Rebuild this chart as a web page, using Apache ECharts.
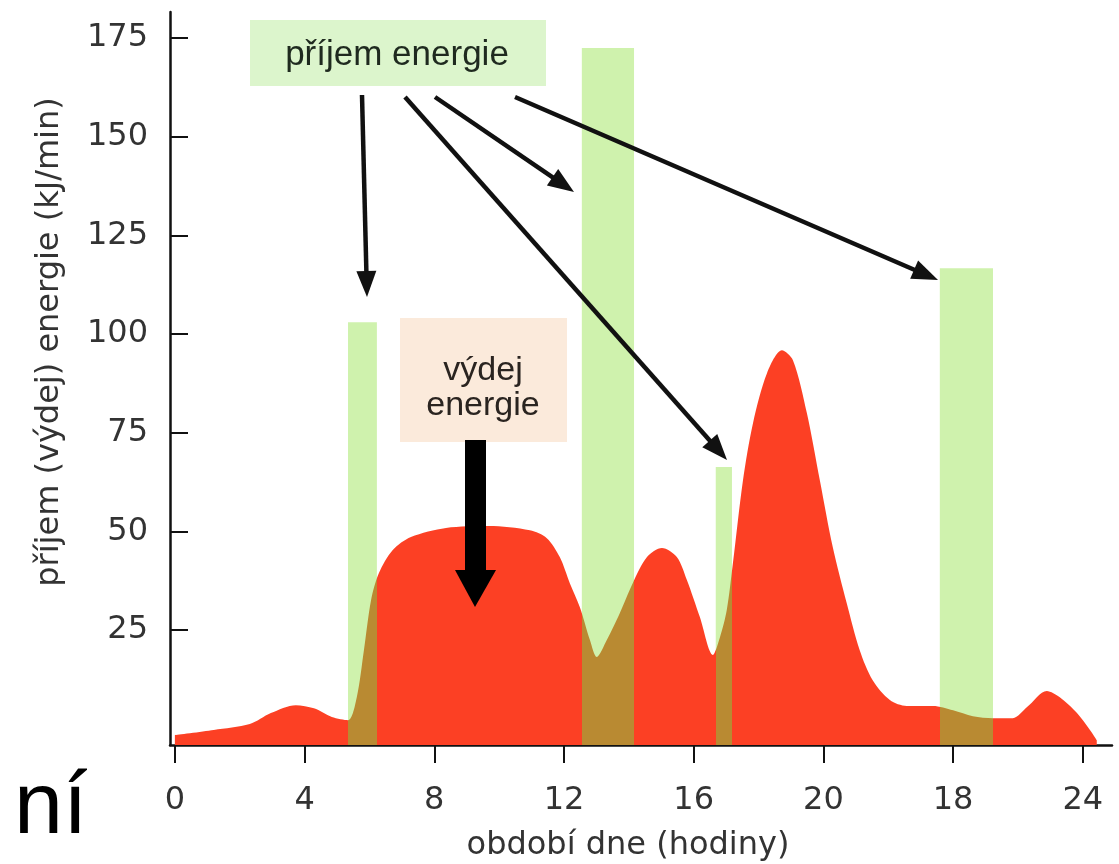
<!DOCTYPE html>
<html>
<head>
<meta charset="utf-8">
<script src="https://cdn.jsdelivr.net/npm/echarts@6/dist/echarts.min.js"></script>
<style>
  html, body { margin: 0; padding: 0; background: #fff; }
  #chart { width: 1119px; height: 864px; }
</style>
</head>
<body>
<div id="chart"></div>
<script>
// ---- data (x in hour-positions along the drawn axis, y in kJ/min) ----
var xTickLabels = ['0', '4', '8', '12', '16', '20', '18', '24'];
var xTickPositions = [0, 4, 8, 12, 16, 20, 24, 28];
var yTickValues = [25, 50, 75, 100, 125, 150, 175];

// energy expenditure ("výdej energie") curve
var expX = [0.00, 1.20, 2.31, 2.96, 3.73, 4.29, 4.84, 5.34, 5.61, 5.83, 6.05, 6.29, 6.72, 7.28, 8.36, 9.68,
            10.95, 11.47, 11.87, 12.18, 12.49, 12.80, 13.01, 13.32, 13.72, 14.12, 14.56, 15.02, 15.48, 15.79,
            16.19, 16.59, 16.81, 17.02, 17.21, 17.52, 17.83, 18.26, 18.72, 19.06, 19.49, 19.89, 20.29, 20.72,
            21.12, 21.52, 22.05, 22.57, 23.38, 24.00, 24.61, 25.23, 25.84, 26.28, 26.89, 27.29, 27.82, 28.22, 28.43];
var expY = [-1.6, -0.3, 1.2, 4.0, 6.0, 5.2, 3.0, 2.2, 8.0, 19.9, 32.6, 39.4, 45.3, 48.6, 50.9, 51.4,
            50.3, 48.3, 43.5, 36.9, 30.8, 22.5, 18.2, 22.5, 29.3, 36.9, 43.5, 45.8, 43.5, 37.7,
            28.3, 18.7, 23.2, 30.1, 42.0, 63.0, 77.5, 90.1, 95.9, 93.4, 80.0, 63.0, 46.0, 31.8,
            19.9, 12.3, 7.3, 5.8, 5.8, 4.7, 3.2, 2.7, 2.7, 5.5, 9.6, 8.0, 4.0, -0.3, -2.9];

// energy intake ("příjem energie") bars: start, end, value
var intakeStart = [5.34, 12.55, 16.68, 23.59];
var intakeEnd   = [6.23, 14.16, 17.18, 25.23];
var intakeValue = [103.0, 172.5, 66.3, 116.7];

// ---- build ----
var RED = '#fc4024', GREEN = '#cff2ad', OLIVE = '#b98a32';
var Y_MIN = -4.1, Y_MAX = 181.6, X_MIN = -0.15, X_MAX = 28.9;
var FONT = '"DejaVu Sans", sans-serif';
var NOTE_FONT = '"Liberation Sans", Arial, sans-serif';

var expData = expX.map(function (x, i) { return [x, expY[i]]; });
var barData = intakeStart.map(function (s, i) { return [s, intakeEnd[i], intakeValue[i]]; });
var pieces = intakeStart.map(function (s, i) { return { gte: s, lte: intakeEnd[i], color: OLIVE }; });

function arrowGraphics(x1, y1, x2, y2, w, headLen, headW) {
  var ang = Math.atan2(y2 - y1, x2 - x1);
  var bx = x2 - headLen * Math.cos(ang), by = y2 - headLen * Math.sin(ang);
  var px = -Math.sin(ang) * headW / 2, py = Math.cos(ang) * headW / 2;
  return [
    { type: 'line', z: 50, shape: { x1: x1, y1: y1, x2: bx + 2 * Math.cos(ang), y2: by + 2 * Math.sin(ang) }, style: { stroke: '#111', lineWidth: w } },
    { type: 'polygon', z: 50, shape: { points: [[x2, y2], [bx + px, by + py], [bx - px, by - py]] }, style: { fill: '#111' } }
  ];
}

var graphics = [
  // intake label box
  { type: 'rect', z: 40, shape: { x: 250, y: 20, width: 296, height: 66 }, style: { fill: '#dcf5cc' } },
  { type: 'text', z: 41, style: { x: 397, y: 55, text: 'příjem energie', font: '35px ' + NOTE_FONT, fill: '#1f2a1f', textAlign: 'center', textVerticalAlign: 'middle' } },
  // expenditure label box
  { type: 'rect', z: 40, shape: { x: 400, y: 318, width: 167, height: 124 }, style: { fill: '#fbeadb' } },
  { type: 'text', z: 41, style: { x: 483, y: 371, text: 'výdej', font: '34px ' + NOTE_FONT, fill: '#2a2420', textAlign: 'center', textVerticalAlign: 'middle' } },
  { type: 'text', z: 41, style: { x: 483, y: 406, text: 'energie', font: '34px ' + NOTE_FONT, fill: '#2a2420', textAlign: 'center', textVerticalAlign: 'middle' } },
  // thick arrow
  { type: 'rect', z: 50, shape: { x: 465, y: 440, width: 21, height: 133 }, style: { fill: '#000' } },
  { type: 'polygon', z: 50, shape: { points: [[455, 570], [496, 570], [475, 607]] }, style: { fill: '#000' } },
  // y axis title
  { type: 'text', z: 41, rotation: Math.PI / 2, x: 50, y: 342, style: { x: 0, y: 0, text: 'příjem (výdej) energie (kJ/min)', font: '32px ' + FONT, fill: '#333', textAlign: 'center', textVerticalAlign: 'middle' } },
  // x axis title
  { type: 'text', z: 41, style: { x: 628, y: 846, text: 'období dne (hodiny)', font: '32px ' + FONT, fill: '#333', textAlign: 'center', textVerticalAlign: 'middle' } },
  // cropped fragment of surrounding text
  { type: 'text', z: 41, style: { x: 14, y: 853, text: 'ní', font: '88px "Liberation Sans", Arial, sans-serif', fill: '#000', textAlign: 'left', textVerticalAlign: 'bottom' } }
];
graphics = graphics.concat(arrowGraphics(362, 95, 367, 297, 4.5, 26, 20));
graphics = graphics.concat(arrowGraphics(435, 97, 574, 192, 4.5, 26, 20));
graphics = graphics.concat(arrowGraphics(405, 97, 727, 460, 4.5, 26, 20));
graphics = graphics.concat(arrowGraphics(515, 97, 938, 280, 4.5, 26, 20));

var chart = echarts.init(document.getElementById('chart'));
chart.setOption({
  animation: false,
  backgroundColor: '#fff',
  grid: { left: 170, right: 7, top: 12, bottom: 119, containLabel: false },
  xAxis: {
    type: 'value', min: X_MIN, max: X_MAX,
    splitLine: { show: false },
    axisLine: { onZero: false, lineStyle: { color: '#111', width: 2.5 } },
    axisTick: { show: true, length: 18, inside: false, customValues: xTickPositions, lineStyle: { color: '#111', width: 2 } },
    axisLabel: {
      customValues: xTickPositions, margin: 40, color: '#333', fontSize: 32, fontFamily: FONT,
      formatter: function (v) { return xTickLabels[Math.round(v / 4)]; }
    }
  },
  yAxis: {
    type: 'value', min: Y_MIN, max: Y_MAX,
    splitLine: { show: false },
    axisLine: { show: true, onZero: false, lineStyle: { color: '#111', width: 2.5 } },
    axisTick: { show: true, length: 18, inside: true, customValues: yTickValues, lineStyle: { color: '#111', width: 2 } },
    axisLabel: { customValues: yTickValues, margin: 22, color: '#333', fontSize: 32, fontFamily: FONT }
  },
  visualMap: {
    show: false, type: 'piecewise', dimension: 0, seriesIndex: 1,
    pieces: pieces, outOfRange: { color: RED }
  },
  graphic: graphics,
  series: [
    {
      type: 'custom', name: 'příjem energie', z: 1,
      encode: { x: [0, 1], y: 2 },
      data: barData,
      renderItem: function (params, api) {
        var cs = params.coordSys;
        var p0 = api.coord([api.value(0), api.value(2)]);
        var p1 = api.coord([api.value(1), api.value(2)]);
        var bottom = cs.y + cs.height;
        return { type: 'rect', shape: { x: p0[0], y: p0[1], width: p1[0] - p0[0], height: bottom - p0[1] }, style: { fill: GREEN } };
      }
    },
    {
      type: 'line', name: 'výdej energie', z: 2,
      data: expData, smooth: 0.3, symbol: 'none',
      lineStyle: { width: 0 },
      areaStyle: { opacity: 1, origin: 'start' }
    }
  ]
});
</script>
</body>
</html>
